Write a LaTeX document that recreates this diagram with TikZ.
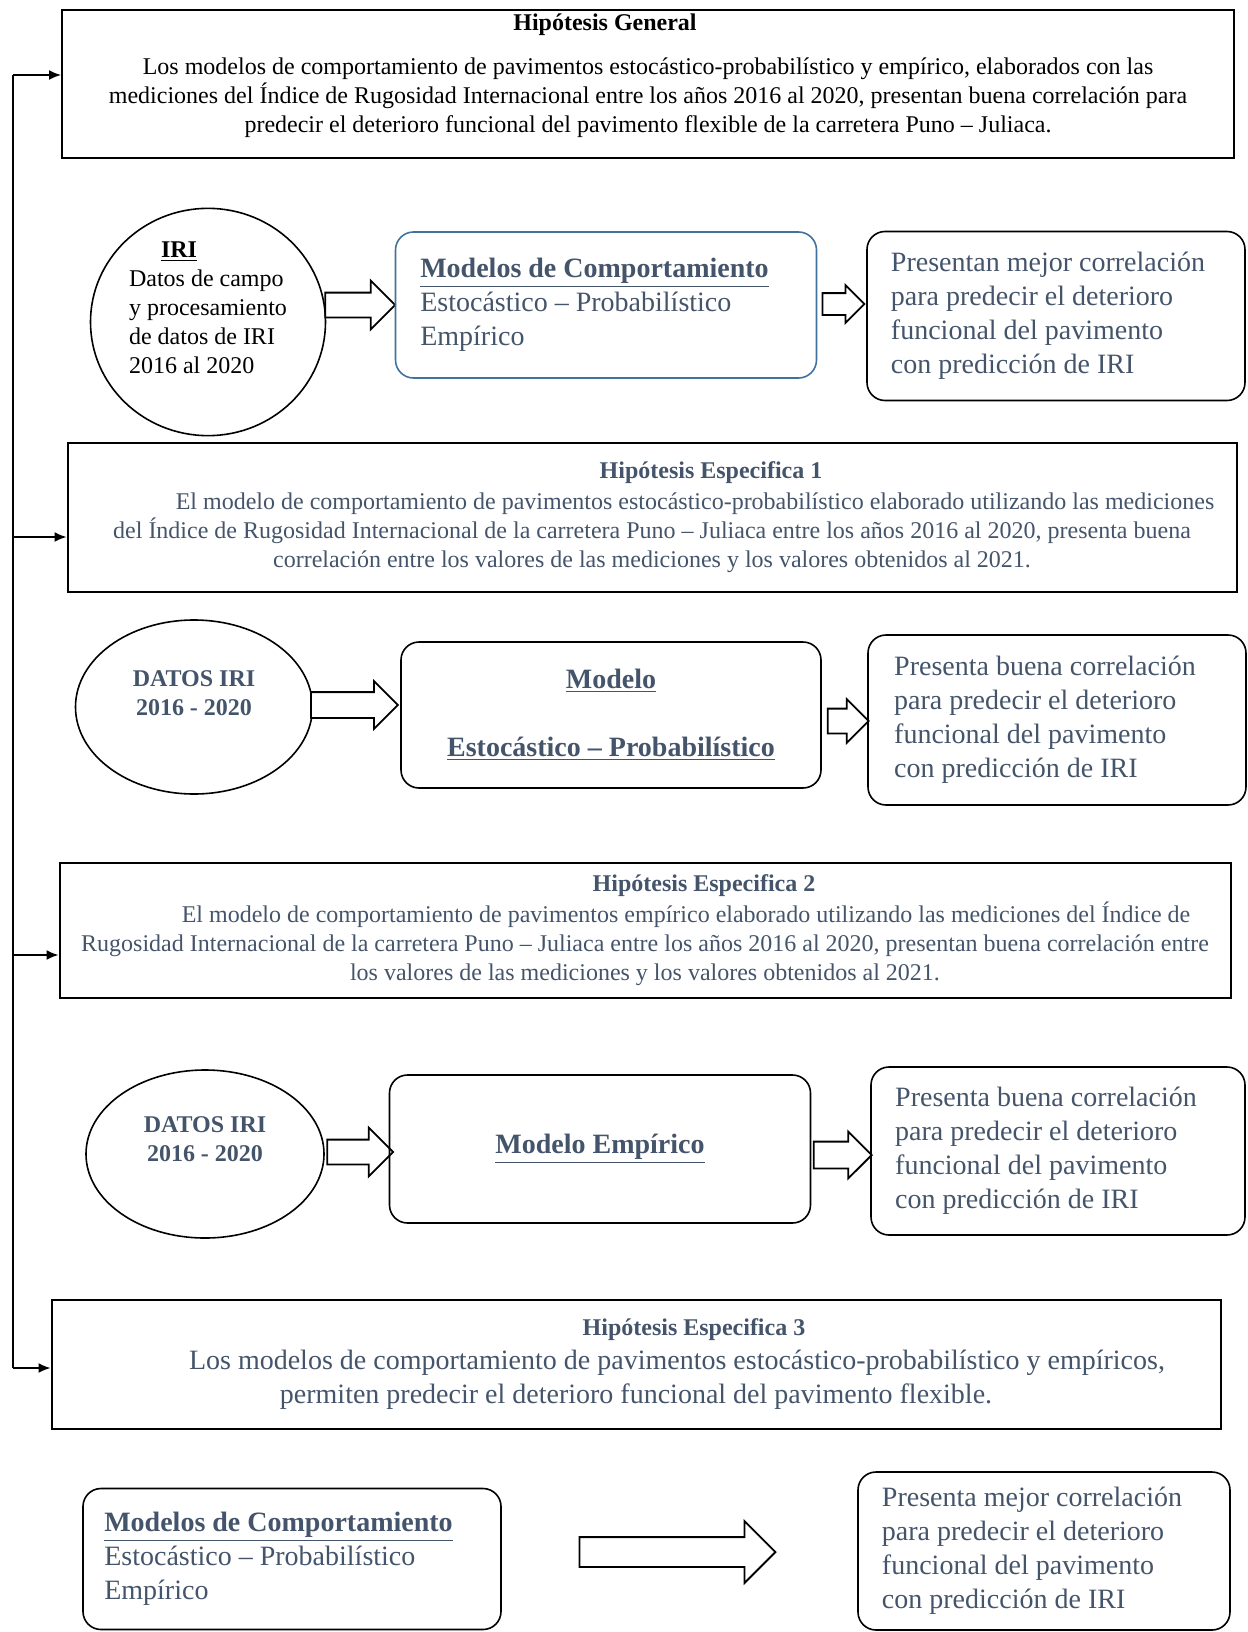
\documentclass[tikz,border=0pt]{standalone}
\usepackage{fontspec}
\setmainfont{Liberation Serif}
\usetikzlibrary{shapes.geometric, shapes.arrows, arrows.meta, positioning, calc}
\definecolor{slate}{HTML}{44546A}
\definecolor{boxblue}{HTML}{41719C}
\tikzstyle{hypo}   = [rectangle, draw=black, line width=1pt, align=center, text=slate,
                      font=\fontsize{12}{14.5}\selectfont, inner sep=0pt]
\tikzstyle{datos}  = [ellipse, draw=black, line width=0.8pt, inner sep=0pt, align=center,
                      font=\fontsize{12}{14.5}\selectfont]
\tikzstyle{modelo} = [rectangle, rounded corners=9pt, draw=black, line width=0.8pt, inner sep=0pt,
                      align=left, text=slate, font=\fontsize{14}{17}\selectfont]
\tikzstyle{flecha} = [single arrow, draw=black, line width=0.9pt, fill=white, inner xsep=0pt,
                      single arrow head indent=0pt]
\tikzstyle{arrow}  = [line width=0.8pt, -{Latex[length=6pt,width=5pt]}]

\begin{document}
\begin{tikzpicture}[x=0.5pt, y=-0.5pt]
  \useasboundingbox (0,0) rectangle (1247,1632);

  % hipotesis general
  \node (gen) [hypo, text=black, minimum width=586pt, minimum height=74pt] at (648,84)
    {\textbf{Hipótesis General}\hspace*{43pt}\\[7.5pt]
     Los modelos de comportamiento de pavimentos estocástico-probabilístico y empírico, elaborados con las\\
     mediciones del Índice de Rugosidad Internacional entre los años 2016 al 2020, presentan buena correlación para\\
     predecir el deterioro funcional del pavimento flexible de la carretera Puno – Juliaca.\\[-4pt]};

  % fila 1
  \node (iri1) [datos, minimum width=117.5pt, minimum height=91.5pt, align=left] at (208,322)
    {\hspace*{16pt}\textbf{\underline{IRI}}\\ Datos de campo\\ y procesamiento\\ de datos de IRI\\ 2016 al 2020\\[0pt]};
  \node (fa1) [flecha, minimum height=35pt, minimum width=23.5pt, inner ysep=5.75pt, single arrow head extend=6pt] at (354,305) {};
  \node (mod1) [modelo, draw=boxblue, minimum width=210.5pt, minimum height=73pt] at (606,305)
    {\textbf{\underline{Modelos de Comportamiento}}\hspace*{11.5pt}\\ Estocástico – Probabilístico\\ Empírico};
  \node (fa2) [flecha, minimum height=21pt, minimum width=18pt, inner ysep=5pt, single arrow head extend=4pt] at (838,304) {};
  \node (pred1) [modelo, minimum width=189pt, minimum height=84.5pt] at (1056,316)
    {Presentan mejor correlación\hspace*{8pt}\\ para predecir el deterioro\\ funcional del pavimento\\ con predicción de IRI};

  % hipotesis especifica 1
  \node (esp1) [hypo, minimum width=584.5pt, minimum height=74.5pt] at (652,517)
    {\hspace*{59pt}\textbf{Hipótesis Especifica 1}\\[1pt]
     \hspace*{43pt}El modelo de comportamiento de pavimentos estocástico-probabilístico elaborado utilizando las mediciones\\
     del Índice de Rugosidad Internacional de la carretera Puno – Juliaca entre los años 2016 al 2020, presenta buena\\
     correlación entre los valores de las mediciones y los valores obtenidos al 2021.};

  % fila 2
  \node (datos2) [datos, text=slate, minimum width=118.5pt, minimum height=87pt] at (194,707)
    {\textbf{DATOS IRI}\\ \textbf{2016 - 2020}\\[-0.5pt]};
  \node (fb1) [flecha, minimum height=43.5pt, minimum width=23pt, inner ysep=6pt, single arrow head extend=5.5pt] at (348,705) {};
  \node (est2) [modelo, align=center, minimum width=210pt, minimum height=73pt] at (611,715)
    {\textbf{\underline{Modelo}}\\[17pt] \textbf{\underline{Estocástico – Probabilístico}}};
  \node (fb2) [flecha, minimum height=20.5pt, minimum width=21pt, inner ysep=5.75pt, single arrow head extend=4.75pt] at (842,721) {};
  \node (pred2) [modelo, minimum width=189pt, minimum height=85pt] at (1057,720)
    {Presenta buena correlación\hspace*{12pt}\\ para predecir el deterioro\\ funcional del pavimento\\ con predicción de IRI};

  % hipotesis especifica 2
  \node (esp2) [hypo, minimum width=585.5pt, minimum height=67.5pt] at (645,930)
    {\hspace*{59pt}\textbf{Hipótesis Especifica 2}\\[1pt]
     \hspace*{41pt}El modelo de comportamiento de pavimentos empírico elaborado utilizando las mediciones del Índice de\\
     Rugosidad Internacional de la carretera Puno – Juliaca entre los años 2016 al 2020, presentan buena correlación entre\\
     los valores de las mediciones y los valores obtenidos al 2021.};

  % fila 3
  \node (datos3) [datos, text=slate, minimum width=119pt, minimum height=84pt] at (205,1154)
    {\textbf{DATOS IRI}\\ \textbf{2016 - 2020}\\[0pt]};
  \node (fc1) [flecha, minimum height=33pt, minimum width=23.5pt, inner ysep=5.75pt, single arrow head extend=6pt] at (354,1152) {};
  \node (emp3) [modelo, align=center, minimum width=210.5pt, minimum height=74pt] at (600,1149)
    {\textbf{\underline{Modelo Empírico}}};
  \node (fc2) [flecha, minimum height=29pt, minimum width=22.5pt, inner ysep=6.25pt, single arrow head extend=5pt] at (836,1155) {};
  \node (pred3) [modelo, minimum width=187pt, minimum height=84pt] at (1058,1151)
    {Presenta buena correlación\hspace*{12pt}\\ para predecir el deterioro\\ funcional del pavimento\\ con predicción de IRI};

  % hipotesis especifica 3
  \node (esp3) [hypo, font=\fontsize{14}{17}\selectfont, minimum width=584.5pt, minimum height=64.5pt] at (636,1364)
    {\hspace*{58pt}\fontsize{12}{14.5}\selectfont\textbf{Hipótesis Especifica 3}\\
     \hspace*{41pt}Los modelos de comportamiento de pavimentos estocástico-probabilístico y empíricos,\\
     permiten predecir el deterioro funcional del pavimento flexible.};

  % fila 4
  \node (modL) [modelo, minimum width=209pt, minimum height=70.5pt] at (292,1559)
    {\textbf{\underline{Modelos de Comportamiento}}\hspace*{13.5pt}\\ Estocástico – Probabilístico\\ Empírico};
  \node (fd) [flecha, minimum height=98pt, minimum width=30pt, inner ysep=7pt, single arrow head extend=8pt] at (670,1552) {};
  \node (predL) [modelo, minimum width=186pt, minimum height=79pt] at (1044,1551)
    {Presenta mejor correlación\hspace*{12pt}\\ para predecir el deterioro\\ funcional del pavimento\\ con predicción de IRI};

  % linea lateral
  \coordinate (b0) at (13,75);
  \coordinate (b1) at (13,537);
  \coordinate (b2) at (13,955);
  \coordinate (b3) at (13,1368);
  \draw[line width=0.8pt] (b0) -- (b3);
  \draw[arrow] (b0) -- (gen.west |- b0);
  \draw[arrow] (b1) -- (esp1.west |- b1);
  \draw[arrow] (b2) -- (esp2.west |- b2);
  \draw[arrow] (b3) -- (esp3.west |- b3);
\end{tikzpicture}
\end{document}
